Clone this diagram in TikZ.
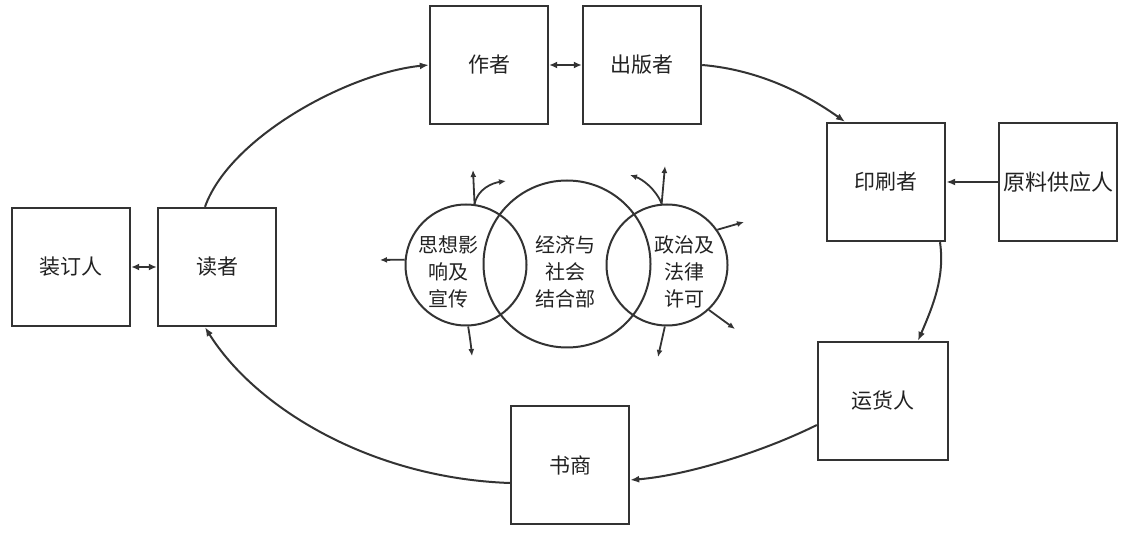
\documentclass[tikz,border=0pt]{standalone}
\usepackage{fontspec}
\newfontfamily\cjk{Noto Sans CJK SC}
\usetikzlibrary{arrows.meta}
\definecolor{linec}{HTML}{333333}
\definecolor{txtc}{HTML}{222222}
\begin{document}
\begin{tikzpicture}[x=1pt,y=-1pt,
  box/.style={draw=linec, line width=2.4pt, minimum width=118pt, minimum height=118pt,
    inner sep=0pt, text=txtc, font=\cjk\fontsize{21}{24}\selectfont},
  ring/.style={circle, draw=linec, line width=2pt, inner sep=0pt},
  ctext/.style={align=center, text=txtc, font=\cjk\fontsize{20}{27}\selectfont},
  arr/.style={draw=linec, line width=2pt, -{Latex[length=9pt,width=7pt]}},
  darr/.style={draw=linec, line width=2pt, {Latex[length=8pt,width=7pt]}-{Latex[length=8pt,width=7pt]}},
  sarr/.style={draw=linec, line width=1.8pt, -{Latex[length=7pt,width=6pt]}}]
\useasboundingbox[fill=white] (0,0) rectangle (1122,534);

% boxes
\node[box] (author) at (489,65) {作者};
\node[box] (publisher) at (642,65) {出版者};
\node[box] (printer) at (886,182) {印刷者};
\node[box, font=\cjk\fontsize{22}{24}\selectfont] (supplier) at (1058,182) {原料供应人};
\node[box] (binder) at (71,267) {装订人};
\node[box] (reader) at (217,267) {读者};
\node[box, minimum width=130pt] (carrier) at (883,401) {运货人};
\node[box] (seller) at (570,465) {书商};

% circles
\node[ring, minimum size=121pt] (lc) at (466,265) {};
\node[ring, minimum size=167pt] (mc) at (567,264) {};
\node[ring, minimum size=121pt] (rc) at (667,265) {};
\node[ctext] (lt) at (448,272) {思想影\\响及\\宣传};
\node[ctext] (mt) at (565,272) {经济与\\社会\\结合部};
\node[ctext] (rt) at (684,272) {政治及\\法律\\许可};

% circle arrows
\coordinate (lcu) at (473,170);
\coordinate (lcr) at (506,181);
\coordinate (lcl) at (380,260);
\coordinate (lcd) at (472,356);
\coordinate (rcu) at (665,166);
\coordinate (rcl) at (630,175);
\coordinate (rcr) at (744,222);
\coordinate (rcb) at (735,329);
\coordinate (rcd) at (658,357);
\draw[sarr] (lc.82) -- (lcu);
\draw[sarr] (lc.82) .. controls +(3,-15) and +(-14,2) .. (lcr);
\draw[sarr] (lc.175) -- (lcl);
\draw[sarr] (lc.-88) .. controls +(2,12) and +(-1,-10) .. (lcd);
\draw[sarr] (rc.95) -- (rcu);
\draw[sarr] (rc.95) .. controls +(-6,-15) and +(12,4) .. (rcl);
\draw[sarr] (rc.35) -- (rcr);
\draw[sarr] (rc.-47) -- (rcb);
\draw[sarr] (rc.-92) -- (rcd);

% cycle
\draw[arr] ([xshift=-12pt]reader.north) .. controls +(25,-70) and +(-80,8) .. (author.west);
\draw[darr] (author.east) -- (publisher.west);
\draw[arr] (publisher.east) .. controls +(60,5) and +(-35,-25) .. ([xshift=-41pt]printer.north);
\draw[arr] (supplier.west) -- (printer.east);
\draw[arr] ([xshift=54pt]printer.south) .. controls +(5,35) and +(15,-35) .. ([xshift=35pt]carrier.north);
\draw[arr] ([yshift=-24pt]carrier.west) .. controls +(-50,25) and +(60,-5) .. ([yshift=-15pt]seller.east);
\draw[arr] ([yshift=-18pt]seller.west) .. controls +(-140,-5) and +(50,80) .. ([xshift=-12pt]reader.south);
\draw[darr] (binder.east) -- (reader.west);
\end{tikzpicture}
\end{document}
